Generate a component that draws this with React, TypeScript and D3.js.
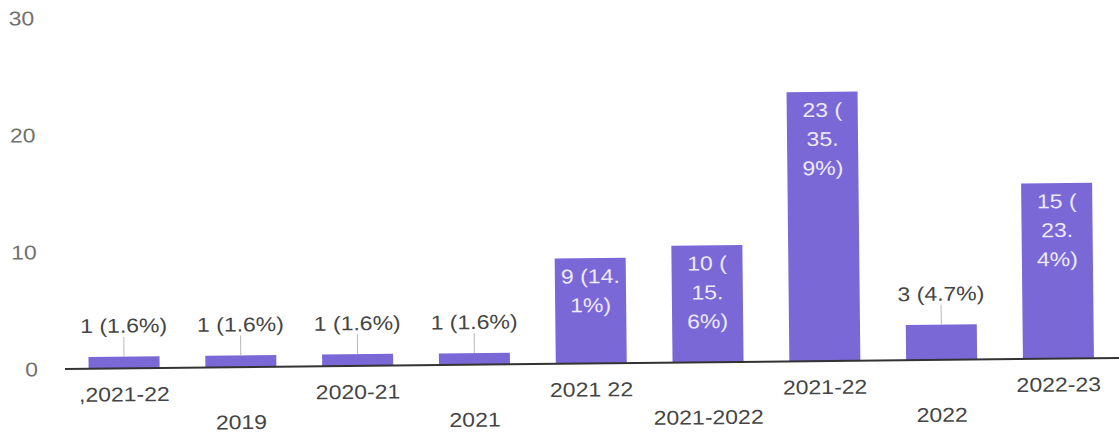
import React, { useMemo } from "react";
import * as d3 from "d3";

const categories = [",2021-22", "2019", "2020-21", "2021", "2021 22", "2021-2022", "2021-22", "2022", "2022-23"];
const values = [1, 1, 1, 1, 9, 10, 23, 3, 15];
const yTicks = [0, 10, 20, 30];

const W = 1119;
const H = 439;
const FONT = "'Liberation Sans', Arial, sans-serif";
const FS = 20;
const SX = 1.15;
const BAR = "#7a68d6";

function measure(t: string): number {
  const c = document.createElement("canvas").getContext("2d");
  if (!c) return t.length * FS * 0.55 * SX;
  c.font = `${FS}px ${FONT}`;
  return c.measureText(t).width * SX;
}

function wrap(label: string, maxW: number): string[] {
  const tokens = label.match(/[^ (.]*[ (.]?/g)!.filter((s) => s.length > 0);
  const lines: string[] = [];
  let cur = "";
  for (const tk of tokens) {
    const trial = cur + tk;
    if (cur && measure(trial.trim()) > maxW) {
      lines.push(cur.trim());
      cur = tk;
    } else cur = trial;
  }
  if (cur) lines.push(cur.trim());
  return lines;
}

function T(props: { x: number; y: number; anchor?: string; fill: string; children: string }) {
  return (
    <text
      transform={`translate(${props.x},${props.y}) scale(${SX},1)`}
      textAnchor={props.anchor || "middle"}
      dominantBaseline="central"
      fontFamily={FONT}
      fontSize={FS}
      fill={props.fill}
    >
      {props.children}
    </text>
  );
}

export default function App() {
  const total = d3.sum(values);
  const x = d3
    .scaleBand<number>()
    .domain(d3.range(categories.length))
    .range([65.6, 1117])
    .paddingInner(0.392)
    .paddingOuter(0.197);
  const y = d3.scaleLinear().domain([0, 30]).range([369, 18]);
  const bw = x.bandwidth();
  const lineH = 29;

  const items = useMemo(
    () =>
      values.map((v, i) => {
        const label = `${v} (${d3.format(".1f")((v / total) * 100)}%)`;
        const lines = wrap(label, bw - 6);
        const h = y(0) - y(v);
        const inside = lines.length * lineH + 4 <= h;
        return { v, i, label, lines, inside };
      }),
    [bw]
  );

  return (
    <svg
      width={W}
      height={H}
      style={{ position: "absolute", left: 0, top: 0, background: "#fff" }}
    >
      <rect width={W} height={H} fill="#fff" />
      <g transform={`rotate(-0.6, 65, ${y(0)})`}>
        {yTicks.map((t) => (
          <T key={t} x={38} y={y(t)} anchor="end" fill="#707070">
            {String(t)}
          </T>
        ))}
        {items.map((d) => {
          const bx = x(d.i)!;
          const cx = bx + bw / 2;
          const top = y(d.v);
          return (
            <g key={d.i}>
              <rect x={bx} y={top} width={bw} height={y(0) - top} fill={BAR} />
              {d.inside ? (
                d.lines.map((ln, k) => (
                  <T key={k} x={cx} y={top + 18 + k * lineH} fill="#eeeafc">
                    {ln}
                  </T>
                ))
              ) : (
                <g>
                  <line x1={cx} x2={cx} y1={top - 20} y2={top} stroke="#b8b8b8" strokeWidth={1} />
                  <T x={cx} y={top - 31} fill="#444">
                    {d.label}
                  </T>
                </g>
              )}
            </g>
          );
        })}
        <line x1={65} x2={1120} y1={y(0)} y2={y(0)} stroke="#333" strokeWidth={2} />
        {categories.map((c, i) => (
          <T key={i} x={x(i)! + bw / 2} y={y(0) + (i % 2 === 0 ? 26 : 55)} fill="#444">
            {c}
          </T>
        ))}
      </g>
    </svg>
  );
}
